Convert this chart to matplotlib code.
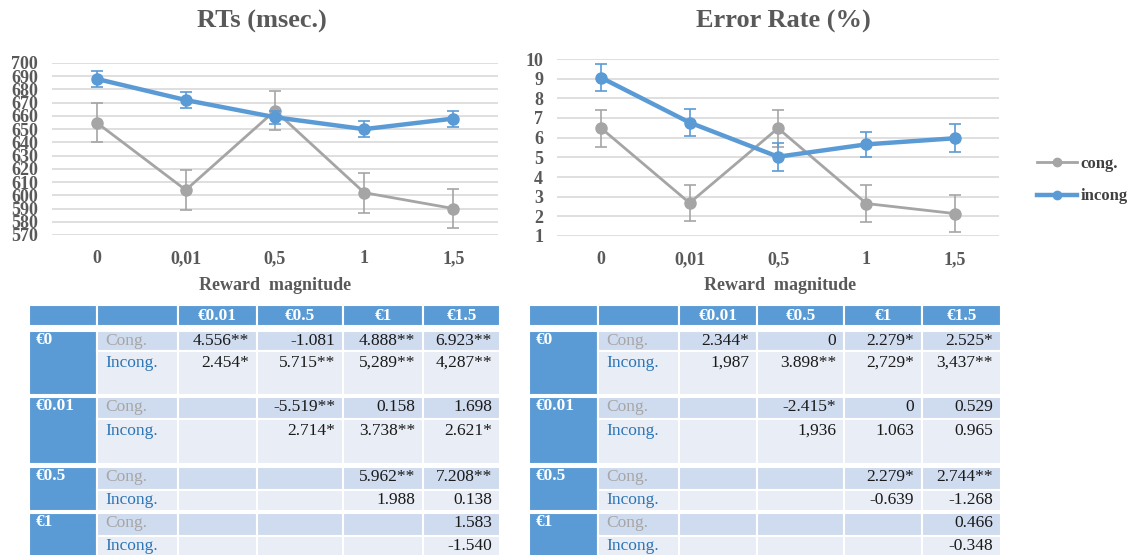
import matplotlib
matplotlib.use('Agg')
import matplotlib.pyplot as plt
from matplotlib.patches import Rectangle
from matplotlib.lines import Line2D

plt.rcParams['font.family'] = ['Liberation Serif', 'DejaVu Serif']

# ---- chart data ----
categories = ['0', '0,01', '0,5', '1', '1,5']

rt_cong = [655, 604, 664, 602, 590]
rt_cong_err = [14.5, 15, 15, 15, 14.5]
rt_incong = [688, 672, 659, 650, 658]
rt_incong_err = [6, 6, 5, 6, 6]
rt_ticks = list(range(570, 701, 10))

er_cong = [6.48, 2.68, 6.48, 2.65, 2.14]
er_cong_err = [0.93, 0.93, 0.93, 0.93, 0.93]
er_incong = [9.05, 6.77, 5.03, 5.66, 5.97]
er_incong_err = [0.7, 0.7, 0.7, 0.65, 0.7]
er_ticks = list(range(1, 11))

# ---- table data ----
row_labels = ['€0', '€0.01', '€0.5', '€1']
col_labels = ['€0.01', '€0.5', '€1', '€1.5']
sub_labels = ['Cong.', 'Incong.']

rt_tab_cong = [['4.556**', '-1.081', '4.888**', '6.923**'],
               ['', '-5.519**', '0.158', '1.698'],
               ['', '', '5.962**', '7.208**'],
               ['', '', '', '1.583']]
rt_tab_incong = [['2.454*', '5.715**', '5,289**', '4,287**'],
                 ['', '2.714*', '3.738**', '2.621*'],
                 ['', '', '1.988', '0.138'],
                 ['', '', '', '-1.540']]
er_tab_cong = [['2.344*', '0', '2.279*', '2.525*'],
               ['', '-2.415*', '0', '0.529'],
               ['', '', '2.279*', '2.744**'],
               ['', '', '', '0.466']]
er_tab_incong = [['1,987', '3.898**', '2,729*', '3,437**'],
                 ['', '1,936', '1.063', '0.965'],
                 ['', '', '-0.639', '-1.268'],
                 ['', '', '', '-0.348']]

BLUE = '#5B9BD5'
GREY = '#A5A5A5'
TXT = '#595959'
W, H = 1132, 555


def px_axes(fig, x0, y0, x1, y1):
    return fig.add_axes([x0 / W, 1 - y1 / H, (x1 - x0) / W, (y1 - y0) / H])


def line_chart(ax, cong, cong_err, incong, incong_err, ticks):
    x = list(range(len(categories)))
    ax.errorbar(x, cong, yerr=cong_err, color=GREY, lw=2, marker='o', ms=8,
                ecolor=GREY, elinewidth=1.2, capsize=4, capthick=1.2, zorder=3)
    ax.errorbar(x, incong, yerr=incong_err, color=BLUE, lw=3.2, marker='o', ms=8,
                ecolor=BLUE, elinewidth=1.2, capsize=4, capthick=1.2, zorder=4)
    ax.set_xlim(-0.5, len(categories) - 0.5)
    ax.set_ylim(ticks[0], ticks[-1])
    ax.set_yticks(ticks)
    ax.set_xticks(x)
    ax.set_xticklabels(categories)
    ax.grid(axis='y', color='#D9D9D9', lw=1.2)
    ax.set_axisbelow(True)
    for s in ax.spines.values():
        s.set_visible(False)
    ax.tick_params(length=0, labelsize=13, labelcolor=TXT)
    ax.tick_params(axis='x', pad=11)
    ax.tick_params(axis='y', pad=10)
    for lab in ax.get_xticklabels() + ax.get_yticklabels():
        lab.set_fontweight('bold')


def draw_table(ax, cols, cong, incong):
    row_edges = [(331, 351, 395), (397, 419, 464), (467, 490, 511), (513, 536, 560)]
    # header
    for i in range(6):
        ax.add_patch(Rectangle((cols[i], 305), cols[i + 1] - cols[i], 21,
                               fc=BLUE, ec='white', lw=1.5))
    for j, lab in enumerate(col_labels):
        ax.text((cols[j + 2] + cols[j + 3]) / 2, 316, lab, ha='center', va='center',
                color='white', fontsize=12.5, fontweight='bold')
    for r, (top, mid, bot) in enumerate(row_edges):
        ax.add_patch(Rectangle((cols[0], top), cols[1] - cols[0], bot - top,
                               fc=BLUE, ec='white', lw=1.5))
        ax.text(cols[0] + 7, top + 9, row_labels[r], ha='left', va='center',
                color='white', fontsize=12.5, fontweight='bold')
        for k, (y0, y1, vals) in enumerate([(top, mid, cong[r]), (mid, bot, incong[r])]):
            fc = '#CFDBEE' if k == 0 else '#E9EEF6'
            for i in range(1, 6):
                ax.add_patch(Rectangle((cols[i], y0), cols[i + 1] - cols[i], y1 - y0,
                                       fc=fc, ec='white', lw=1.5))
            ty = y0 + 10 if (y1 - y0) < 26 else y0 + 12
            ax.text(cols[1] + 8, ty, sub_labels[k], ha='left', va='center', fontsize=12.5,
                    color='#A6A6A6' if k == 0 else '#2E75B6')
            for j, v in enumerate(vals):
                if v:
                    ax.text(cols[j + 3] - 8, ty, v, ha='right', va='center',
                            fontsize=12.5, color='#1a1a1a')


fig = plt.figure(figsize=(W / 100, H / 100), dpi=100)

ax1 = px_axes(fig, 52, 63, 498, 235)
line_chart(ax1, rt_cong, rt_cong_err, rt_incong, rt_incong_err, rt_ticks)
ax2 = px_axes(fig, 557, 59, 999, 236)
line_chart(ax2, er_cong, er_cong_err, er_incong, er_incong_err, er_ticks)

fig.text(262 / W, 1 - 21 / H, 'RTs (msec.)', ha='center', va='center',
         fontsize=19, fontweight='bold', color=TXT)
fig.text(783 / W, 1 - 21 / H, 'Error Rate (%)', ha='center', va='center',
         fontsize=19, fontweight='bold', color=TXT)
for cx in (275, 780):
    fig.text(cx / W, 1 - 285 / H, 'Reward  magnitude', ha='center', va='center',
             fontsize=13, fontweight='bold', color=TXT)

handles = [Line2D([], [], color=GREY, lw=2, marker='o', ms=6),
           Line2D([], [], color=BLUE, lw=3.2, marker='o', ms=6)]
fig.legend(handles, ['cong.', 'incong'], loc='center left',
           bbox_to_anchor=(1022 / W, 1 - 180 / H), frameon=False,
           prop={'weight': 'bold', 'size': 12}, labelcolor='#404040',
           handlelength=2.4, handletextpad=0.2, labelspacing=1.0)

axt = fig.add_axes([0, 0, 1, 1], zorder=-1)
axt.set_xlim(0, W)
axt.set_ylim(H, 0)
axt.axis('off')
draw_table(axt, [29, 97, 178, 257, 343, 423, 500], rt_tab_cong, rt_tab_incong)
draw_table(axt, [529, 598, 679, 757, 844, 922, 1001], er_tab_cong, er_tab_incong)

fig.savefig('out.png', dpi=100)
